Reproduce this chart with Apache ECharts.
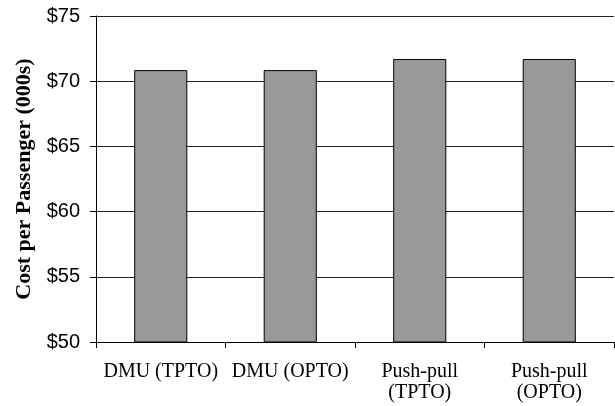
<!DOCTYPE html>
<html><head><meta charset="utf-8">
<script src="https://cdn.jsdelivr.net/npm/echarts@6/dist/echarts.min.js"></script>
<style>html,body{margin:0;padding:0;background:#fff}#c{width:615px;height:406px}</style>
</head><body><div id="c"></div>
<script>
const categories = ['DMU (TPTO)', 'DMU (OPTO)', 'Push-pull\n(TPTO)', 'Push-pull\n(OPTO)'];
const costValues = [70.85, 70.85, 71.7, 71.7];
const yTicks = { min: 50, max: 75, interval: 5 };

const chart = echarts.init(document.getElementById('c'), null, { renderer: 'canvas' });
chart.setOption({
  animation: false,
  backgroundColor: '#fff',
  grid: { left: 96, top: 16, right: 1, bottom: 64, containLabel: false },
  xAxis: {
    type: 'category',
    data: categories,
    axisLine: { lineStyle: { color: '#000', width: 1 } },
    axisTick: { show: true, length: 6, alignWithLabel: false, lineStyle: { color: '#000' } },
    axisLabel: { fontFamily: 'Liberation Serif', fontSize: 20, color: '#000', margin: 19, lineHeight: 21, interval: 0 }
  },
  yAxis: {
    type: 'value',
    min: yTicks.min, max: yTicks.max, interval: yTicks.interval,
    name: 'Cost per Passenger (000s)',
    nameLocation: 'middle',
    nameGap: 61,
    nameTextStyle: { fontFamily: 'Liberation Serif', fontSize: 22, fontWeight: 'bold', color: '#000' },
    axisLine: { show: true, lineStyle: { color: '#000', width: 1 } },
    axisTick: { show: true, length: 6, lineStyle: { color: '#000' } },
    splitLine: { show: true, lineStyle: { color: '#222', width: 1 } },
    axisLabel: { fontFamily: 'Liberation Sans', fontSize: 20, color: '#000', margin: 16, formatter: v => '$' + v }
  },
  series: [{
    type: 'bar',
    data: costValues,
    barWidth: '41%',
    itemStyle: { color: '#999999', borderColor: '#000', borderWidth: 1 }
  }]
});
</script></body></html>
